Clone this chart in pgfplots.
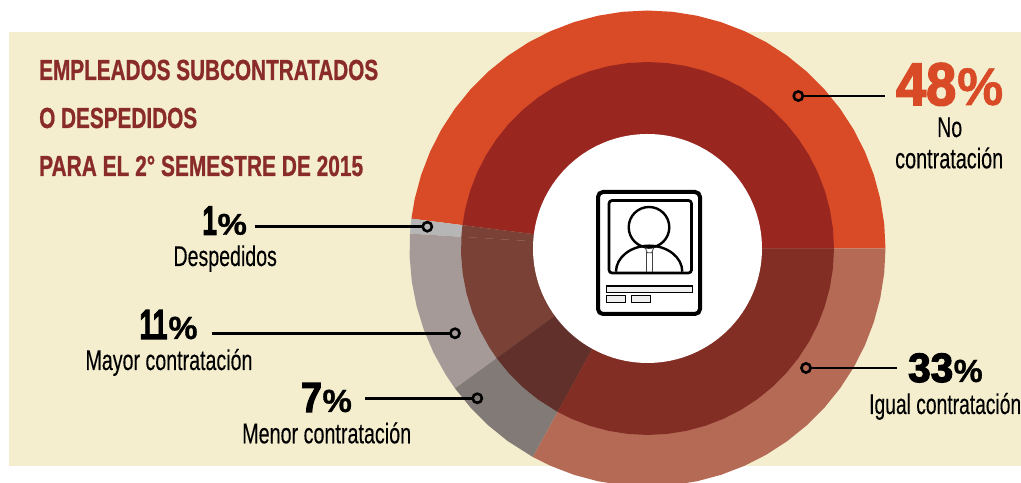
\documentclass[border=0pt]{standalone}
\usepackage{fontspec}
\usepackage{pgfplots}
\pgfplotsset{compat=1.18}
\setmainfont{Liberation Sans}
\newfontfamily\heavy{Liberation Sans Bold}[FakeBold=3]
\newfontfamily\semi{Liberation Sans Bold}[FakeBold=1]
\newfontfamily\body{Liberation Sans}[FakeBold=0.25]
\definecolor{bg}{HTML}{F4EECF}
\definecolor{ttl}{HTML}{8A2B2B}
\definecolor{oA}{HTML}{D94A26}\definecolor{iA}{HTML}{9A2620}
\definecolor{oB}{HTML}{B6B6B6}\definecolor{iB}{HTML}{7A4236}
\definecolor{oC}{HTML}{A59A97}\definecolor{iC}{HTML}{7A4236}
\definecolor{oD}{HTML}{827A76}\definecolor{iD}{HTML}{62302A}
\definecolor{oE}{HTML}{B56A56}\definecolor{iE}{HTML}{822E25}
% x, baseline y (reference pixels), width, font, size, colour, text
\newcommand\T[7]{\node[anchor=base west,inner sep=0pt,text=#6] at (axis cs:{#1-647.5},{248.5-#2})
  {\resizebox{#3pt}{\height}{\fontsize{#5}{#5}#4\selectfont #7}};}
\newcommand\leader[3]{%
  \addplot[black,line width=2.6pt] coordinates {#1 #2};
  \addplot[only marks,mark=o,mark size=4.6pt,mark options={line width=2.6pt,black}] coordinates {#3};}
\begin{document}
\begin{tikzpicture}
\begin{axis}[scale only axis,width=1021pt,height=483pt,
  xmin=-647.5,xmax=373.5,ymin=-234.5,ymax=248.5,hide axis]
\path (rel axis cs:0,0) rectangle (rel axis cs:1,1);
\addplot[draw=none,fill=bg] coordinates {(-638.5,216.5)(373.5,216.5)(373.5,-217.5)(-638.5,-217.5)};
% outer ring
\addplot[draw=none,fill=oA,data cs=polar] coordinates {(0,0)(0,238)(6,238)(12,238)(18,238)(24,238)(30,238)(36,238)(42,238)(48,238)(54,238)(60,238)(66,238)(72,238)(78,238)(84,238)(90,238)(96,238)(102,238)(108,238)(114,238)(120,238)(126,238)(132,238)(138,238)(144,238)(150,238)(156,238)(162,238)(168,238)(172.8,238)};
\addplot[draw=none,fill=oB,data cs=polar] coordinates {(0,0)(172.8,238)(174.6,238)(176.4,238)};
\addplot[draw=none,fill=oC,data cs=polar] coordinates {(0,0)(176.4,238)(182,238)(188,238)(194,238)(200,238)(206,238)(212,238)(216,238)};
\addplot[draw=none,fill=oD,data cs=polar] coordinates {(0,0)(216,238)(222,238)(228,238)(234,238)(241.2,238)};
\addplot[draw=none,fill=oE,data cs=polar] coordinates {(0,0)(241.2,238)(246,238)(252,238)(258,238)(264,238)(270,238)(276,238)(282,238)(288,238)(294,238)(300,238)(306,238)(312,238)(318,238)(324,238)(330,238)(336,238)(342,238)(348,238)(354,238)(360,238)};
% inner ring
\addplot[draw=none,fill=iA,data cs=polar] coordinates {(0,0)(0,186.5)(6,186.5)(12,186.5)(18,186.5)(24,186.5)(30,186.5)(36,186.5)(42,186.5)(48,186.5)(54,186.5)(60,186.5)(66,186.5)(72,186.5)(78,186.5)(84,186.5)(90,186.5)(96,186.5)(102,186.5)(108,186.5)(114,186.5)(120,186.5)(126,186.5)(132,186.5)(138,186.5)(144,186.5)(150,186.5)(156,186.5)(162,186.5)(168,186.5)(172.8,186.5)};
\addplot[draw=none,fill=iB,data cs=polar] coordinates {(0,0)(172.8,186.5)(174.6,186.5)(176.4,186.5)};
\addplot[draw=none,fill=iC,data cs=polar] coordinates {(0,0)(176.4,186.5)(182,186.5)(188,186.5)(194,186.5)(200,186.5)(206,186.5)(212,186.5)(216,186.5)};
\addplot[draw=none,fill=iD,data cs=polar] coordinates {(0,0)(216,186.5)(222,186.5)(228,186.5)(234,186.5)(241.2,186.5)};
\addplot[draw=none,fill=iE,data cs=polar] coordinates {(0,0)(241.2,186.5)(246,186.5)(252,186.5)(258,186.5)(264,186.5)(270,186.5)(276,186.5)(282,186.5)(288,186.5)(294,186.5)(300,186.5)(306,186.5)(312,186.5)(318,186.5)(324,186.5)(330,186.5)(336,186.5)(342,186.5)(348,186.5)(354,186.5)(360,186.5)};
\fill[white] (axis cs:0,0) circle[radius=114.5pt];
% icon
\draw[line width=4pt,rounded corners=5pt] (axis cs:-49.5,56.5) rectangle (axis cs:52.5,-65.5);
\draw[line width=2.7pt,rounded corners=3pt] (axis cs:-38.5,48) rectangle (axis cs:44,-24.5);
\draw[line width=2.4pt] (axis cs:1.5,21.2) circle[radius=20.3pt];
\draw[line width=2.4pt] (axis cs:-31.5,-23.2) arc[start angle=180,end angle=0,x radius=33.15pt,y radius=26pt];
\draw[line width=.8pt,black!75] (axis cs:-.8,-23.2) -- (axis cs:-.8,-3.2) (axis cs:5.2,-23.2) -- (axis cs:5.2,-3.2);
\draw[line width=.8pt,black!75] (axis cs:-2.5,1.2) -- (axis cs:-.2,-4.2) -- (axis cs:4.2,-4.2) -- (axis cs:6.5,1.2);
\draw[line width=1.1pt,fill=black!6] (axis cs:-40.8,-37.5) rectangle (axis cs:45.2,-44.2);
\draw[line width=1.1pt,fill=black!6] (axis cs:-40.8,-47.2) rectangle (axis cs:-21.8,-53.8);
\draw[line width=1.1pt,fill=black!6] (axis cs:-15.8,-47.2) rectangle (axis cs:3.2,-53.8);
% leaders
\leader{(156.5,152.5)}{(237.8,152.5)}{(150.8,152.5)}
\leader{(164,-119.5)}{(249.2,-119.5)}{(158.5,-119.5)}
\leader{(-392.8,21.8)}{(-225.5,21.8)}{(-220.2,21.8)}
\leader{(-435.5,-84.8)}{(-198,-84.8)}{(-192.5,-84.8)}
\leader{(-282.5,-149.8)}{(-175.5,-149.8)}{(-170.2,-149.8)}
% title
\T{39}{80}{339}{\semi}{29}{ttl}{EMPLEADOS SUBCONTRATADOS}
\T{39}{128}{158}{\semi}{29}{ttl}{O DESPEDIDOS}
\T{39}{176}{324}{\semi}{29}{ttl}{PARA EL 2° SEMESTRE DE 2015}
% labels
\T{896}{105}{60}{\heavy}{60}{oA}{48}
\T{957}{105}{46}{\semi}{53}{oA}{\%}
\T{937}{137}{25}{\body}{28.5}{black}{No}
\T{895}{168.3}{108}{\body}{28.5}{black}{contratación}
\T{908}{382}{45}{\heavy}{41}{black}{33}
\T{953.5}{382}{29}{\semi}{32}{black}{\%}
\T{869}{414}{152}{\body}{28.5}{black}{Igual contratación}
\T{202.3}{234.7}{14.4}{\heavy}{41}{black}{1}
\T{217.3}{234.7}{29.4}{\semi}{30}{black}{\%}
\T{173.3}{266}{103.4}{\body}{28.5}{black}{Despedidos}
\T{139.3}{339}{28}{\heavy}{42}{black}{11}
\T{168.3}{339}{29}{\semi}{32}{black}{\%}
\T{85.3}{370}{167}{\body}{28.5}{black}{Mayor contratación}
\T{301}{412}{20.7}{\heavy}{42}{black}{7}
\T{322.3}{412}{29.4}{\semi}{32}{black}{\%}
\T{242}{443.3}{169}{\body}{28.5}{black}{Menor contratación}
\end{axis}
\end{tikzpicture}
\end{document}
